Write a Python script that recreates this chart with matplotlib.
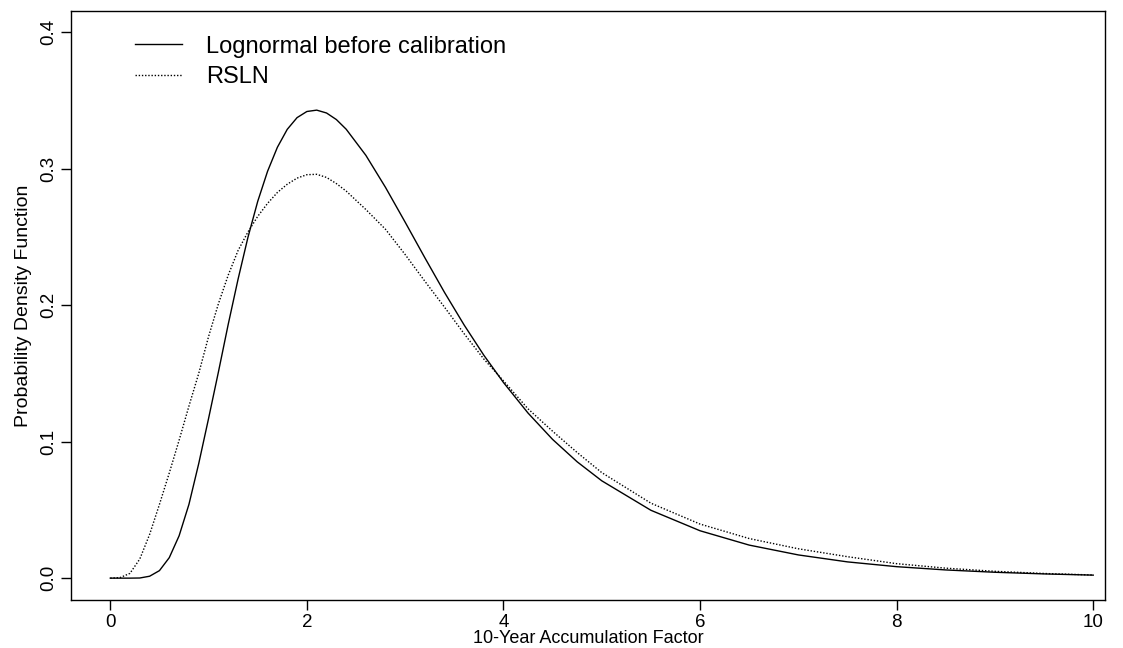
import matplotlib.pyplot as plt

plt.rcParams['font.family'] = ['Liberation Sans', 'DejaVu Sans']

# 10-year accumulation factor grid
acc_factor = [0.0, 0.1, 0.2, 0.3, 0.4, 0.5, 0.6, 0.7, 0.8, 0.9,
              1.0, 1.1, 1.2, 1.3, 1.4, 1.5, 1.6, 1.7, 1.8, 1.9,
              2.0, 2.1, 2.2, 2.3, 2.4, 2.6, 2.8, 3.0, 3.2, 3.4,
              3.6, 3.8, 4.0, 4.25, 4.5, 4.75, 5.0, 5.5, 6.0, 6.5,
              7.0, 7.5, 8.0, 8.5, 9.0, 9.5, 10.0]

# density values
pdf_lognormal = [0.0, 0.0, 0.0, 0.0001, 0.0014, 0.0055, 0.015, 0.031, 0.054, 0.084,
                 0.117, 0.151, 0.186, 0.219, 0.2495, 0.276, 0.298, 0.3156, 0.3287, 0.3373,
                 0.3418, 0.3428, 0.3407, 0.3359, 0.3288, 0.3097, 0.2862, 0.2607, 0.2347, 0.2093,
                 0.1854, 0.1633, 0.1433, 0.1209, 0.1016, 0.0852, 0.0713, 0.0497, 0.0347, 0.0242,
                 0.017, 0.0119, 0.0084, 0.006, 0.0043, 0.0031, 0.0022]

pdf_rsln = [0.0, 0.0004, 0.0035, 0.014, 0.032, 0.054, 0.077, 0.101, 0.126, 0.150,
            0.177, 0.201, 0.222, 0.240, 0.2535, 0.265, 0.2745, 0.2825, 0.2885, 0.293,
            0.2955, 0.2958, 0.2935, 0.289, 0.2835, 0.270, 0.2555, 0.237, 0.2175, 0.1985,
            0.179, 0.1605, 0.1445, 0.124, 0.1076, 0.092, 0.0773, 0.0549, 0.0396, 0.029,
            0.0215, 0.0157, 0.0106, 0.0073, 0.005, 0.0034, 0.0023]

x_ticks = [0, 2, 4, 6, 8, 10]
y_ticks = [0.0, 0.1, 0.2, 0.3, 0.4]

fig = plt.figure(figsize=(11.23, 6.48), dpi=100)
ax = fig.add_axes([0.0632, 0.0741, 0.9208, 0.9089])

ax.plot(acc_factor, pdf_lognormal, color='black', lw=1.0, label='Lognormal before calibration')
ax.plot(acc_factor, pdf_rsln, color='black', lw=1.0, linestyle=(0, (1, 1.3)), label='RSLN')

ax.set_xlim(-0.4, 10.12)
ax.set_ylim(-0.016, 0.4154)
ax.set_xticks(x_ticks)
ax.set_xticklabels([str(t) for t in x_ticks])
ax.set_yticks(y_ticks)
ax.set_yticklabels([f'{t:.1f}' for t in y_ticks], rotation=90, va='center')

ax.tick_params(direction='out', length=7, width=1, labelsize=13.5, pad=3, colors='black')
for s in ax.spines.values():
    s.set_linewidth(1.0)
    s.set_color('black')

ax.set_xlabel('10-Year Accumulation Factor', fontsize=13, labelpad=-0.5)
ax.set_ylabel('Probability Density Function', fontsize=14, labelpad=6)

ax.legend(loc='upper left', bbox_to_anchor=(0.062, 0.958), frameon=False,
          fontsize=17, handlelength=2.0, handletextpad=1.0, labelspacing=0.36,
          borderpad=0, borderaxespad=0)

fig.savefig('out.png', dpi=100)
